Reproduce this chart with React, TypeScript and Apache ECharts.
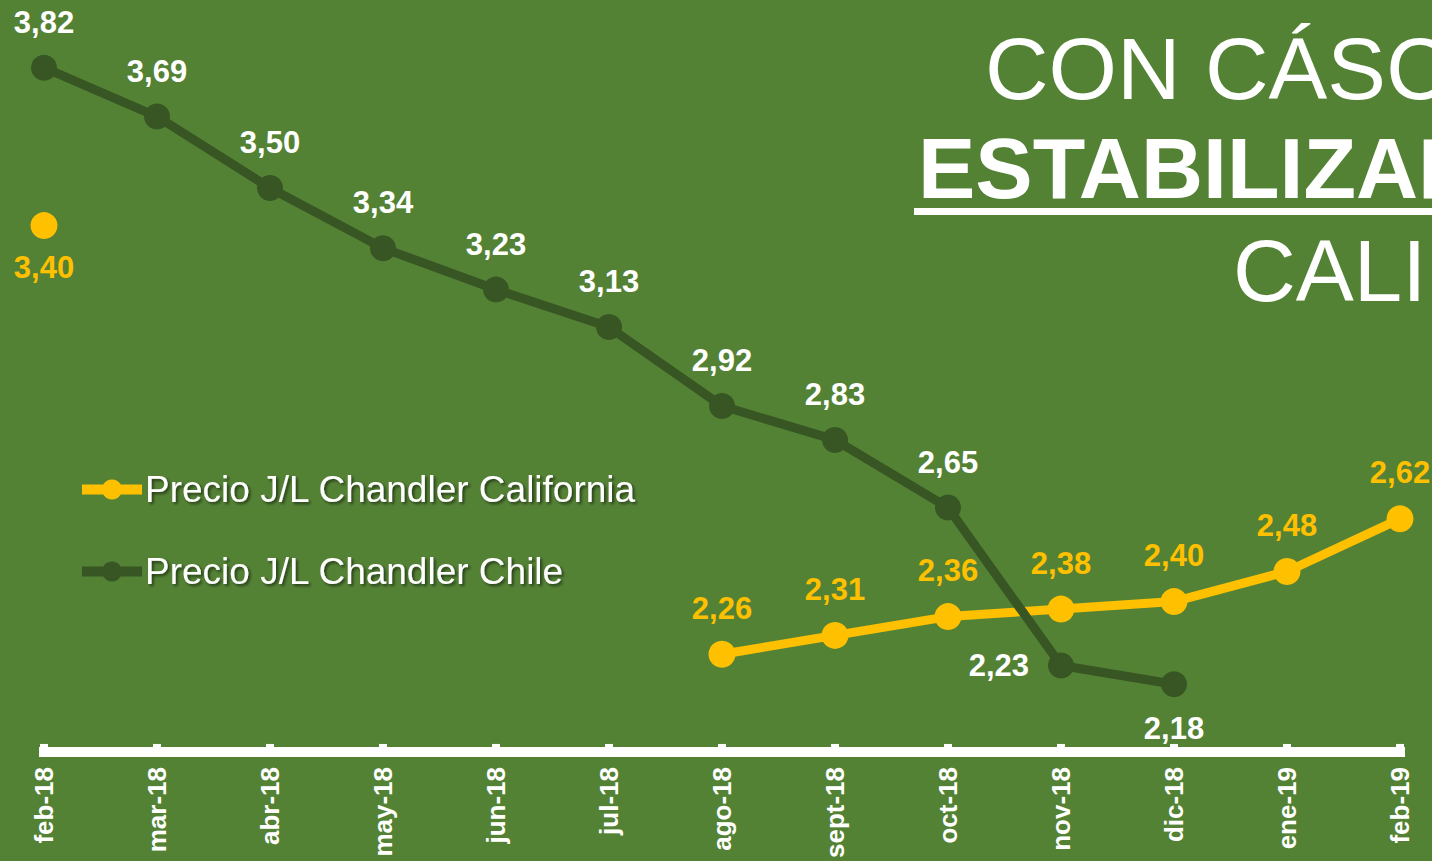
import React, { useEffect, useRef } from "react";
import * as echarts from "echarts";

const months = ["feb-18", "mar-18", "abr-18", "may-18", "jun-18", "jul-18", "ago-18", "sept-18", "oct-18", "nov-18", "dic-18", "ene-19", "feb-19"];
const california: (number | null)[] = [3.4, null, null, null, null, null, 2.26, 2.31, 2.36, 2.38, 2.4, 2.48, 2.62];
const chile: (number | null)[] = [3.82, 3.69, 3.5, 3.34, 3.23, 3.13, 2.92, 2.83, 2.65, 2.23, 2.18, null, null];
const seriesNames = ["Precio J/L Chandler California", "Precio J/L Chandler Chile"];
const titleLines = ["CON CÁSCARA", "ESTABILIZAR", "CALIFORNIA"];

const BG = "#548235";
const DARK = "#375623";
const YELLOW = "#FFC000";
const FONT = "'Liberation Sans', Arial, sans-serif";

const fmt = (v: number) => v.toFixed(2).replace(".", ",");

export default function App() {
  const ref = useRef<HTMLDivElement>(null);
  useEffect(() => {
    if (!ref.current) return;
    const chart = echarts.init(ref.current, null, { renderer: "svg" });

    const labelBase = (color: string) => ({
      show: true,
      position: "top" as const,
      distance: 17,
      color,
      fontFamily: FONT,
      fontWeight: "bold" as const,
      fontSize: 31,
      formatter: (p: any) => fmt(p.value),
    });

    const calData = california.map((v, i) =>
      i === 0 ? { value: v, label: { position: "bottom", distance: 13 } } : v
    );
    const chileData = chile.map((v, i) => {
      if (i === 9) return { value: v, label: { position: "left", distance: 19 } };
      if (i === 10) return { value: v, label: { position: "bottom", distance: 16 } };
      return v;
    });

    chart.setOption({
      animation: false,
      backgroundColor: BG,
      grid: { left: 44, right: 32, top: -1, bottom: 104, containLabel: false },
      legend: {
        orient: "vertical",
        left: 72,
        top: 466,
        itemWidth: 60,
        itemHeight: 25,
        itemGap: 45,
        data: seriesNames,
        lineStyle: { width: 10 },
        textStyle: {
          color: "#ffffff",
          fontFamily: FONT,
          fontSize: 37,
          padding: [0, 0, 0, -2],
          textShadowColor: "rgba(0,0,0,0.55)",
          textShadowBlur: 3,
          textShadowOffsetX: 2,
          textShadowOffsetY: 2,
        },
      },
      xAxis: {
        type: "category",
        data: months,
        boundaryGap: false,
        axisLine: { lineStyle: { color: "#ffffff", width: 10, cap: "square" } },
        axisTick: { show: true, inside: true, length: 8, lineStyle: { color: "#ffffff", width: 8 } },
        axisLabel: {
          rotate: 90,
          interval: 0,
          margin: 15,
          color: "#ffffff",
          fontFamily: FONT,
          fontWeight: "bold",
          fontSize: 26,
        },
        splitLine: { show: false },
      },
      yAxis: {
        type: "value",
        min: 2,
        max: 4,
        show: false,
        splitLine: { show: false },
      },
      series: [
        {
          name: seriesNames[0],
          type: "line",
          data: calData,
          connectNulls: false,
          symbol: "circle",
          symbolSize: 27,
          showAllSymbol: true,
          lineStyle: { color: YELLOW, width: 9 },
          itemStyle: { color: YELLOW },
          label: labelBase(YELLOW),
          z: 2,
        },
        {
          name: seriesNames[1],
          type: "line",
          data: chileData,
          connectNulls: false,
          symbol: "circle",
          symbolSize: 26,
          showAllSymbol: true,
          lineStyle: { color: DARK, width: 9 },
          itemStyle: { color: DARK },
          label: labelBase("#ffffff"),
          z: 3,
        },
      ],
      graphic: [
        {
          type: "text",
          x: 985,
          y: 68,
          style: { text: titleLines[0], fill: "#ffffff", fontFamily: FONT, fontSize: 88, textVerticalAlign: "middle" },
        },
        {
          type: "text",
          x: 918,
          y: 168,
          style: { text: titleLines[1], fill: "#ffffff", fontFamily: FONT, fontWeight: "bold", fontSize: 86, textVerticalAlign: "middle" },
        },
        {
          type: "rect",
          shape: { x: 914, y: 208, width: 530, height: 7 },
          style: { fill: "#ffffff" },
        },
        {
          type: "text",
          x: 1233,
          y: 270,
          style: { text: titleLines[2], fill: "#ffffff", fontFamily: FONT, fontSize: 87, textVerticalAlign: "middle" },
        },
      ],
    });
    return () => chart.dispose();
  }, []);
  return (
    <div
      ref={ref}
      style={{ position: "absolute", left: 0, top: 0, width: 1432, height: 861, overflow: "hidden" }}
    />
  );
}
